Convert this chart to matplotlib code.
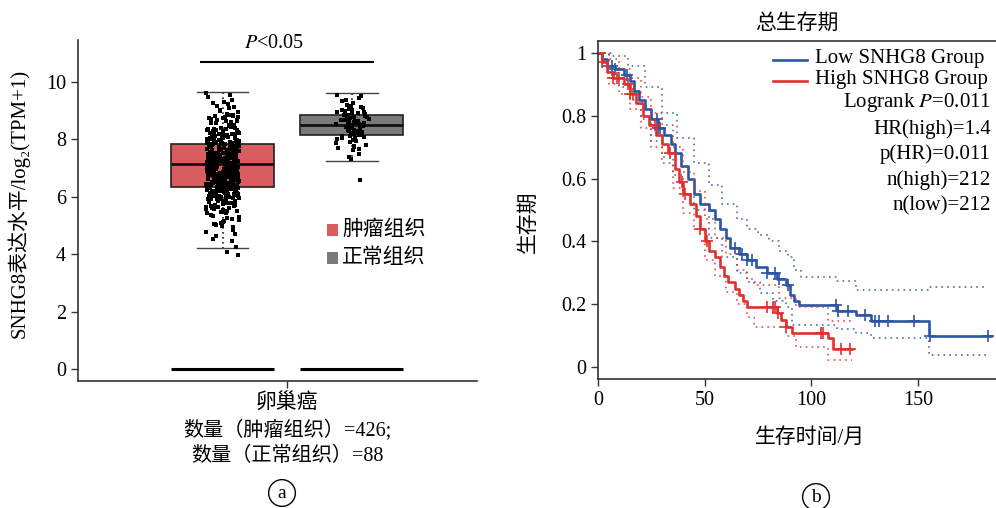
import matplotlib
matplotlib.use("Agg")
import matplotlib.pyplot as plt
import numpy as np
from matplotlib.lines import Line2D
from matplotlib.patches import Rectangle

plt.rcParams["font.family"] = ["Liberation Serif", "Noto Sans CJK SC", "DejaVu Serif"]
plt.rcParams["mathtext.fontset"] = "stix"

# ---- panel a: box plot data ----
group_names = ["肿瘤组织", "正常组织"]
box_q1 = [6.35, 8.15]
box_med = [7.15, 8.50]
box_q3 = [7.85, 8.85]
box_lo = [4.20, 7.25]
box_hi = [9.65, 9.62]
box_out = [[3.98], [6.60]]
box_colors = ["#d95d5f", "#7a7a7a"]

# estimated point counts per value bin (bin edges / counts)
tumor_edges = [3.9, 4.4, 4.9, 5.4, 5.9, 6.4, 6.9, 7.4, 7.9, 8.4, 8.9, 9.4, 9.7]
tumor_counts = [2, 6, 14, 30, 60, 75, 80, 75, 45, 25, 10, 3]
normal_edges = [7.2, 7.6, 8.0, 8.4, 8.8, 9.2, 9.62]
normal_counts = [3, 10, 22, 28, 18, 6]

# ---- panel b: Kaplan-Meier curves ----
low_t = [0, 2, 4, 8, 12, 15, 17, 19, 22, 25, 28, 31, 34, 36, 39, 42, 45, 48, 52, 55,
         57, 60, 62, 66, 70, 74, 79, 84, 88, 90, 92, 94, 112, 121, 128, 155, 184]
low_s = [1, 0.98, 0.96, 0.95, 0.93, 0.91, 0.88, 0.85, 0.82, 0.79, 0.76, 0.74, 0.71, 0.68,
         0.64, 0.60, 0.55, 0.52, 0.50, 0.47, 0.44, 0.41, 0.38, 0.36, 0.34, 0.32, 0.30,
         0.28, 0.26, 0.23, 0.21, 0.197, 0.18, 0.165, 0.148, 0.098, 0.098]
low_up_t = [0, 7, 14, 22, 30, 37, 45, 52, 58, 65, 70, 75, 80, 85, 89, 92, 95, 112, 121, 155, 183]
low_up_s = [1, 0.99, 0.96, 0.89, 0.81, 0.73, 0.65, 0.58, 0.52, 0.47, 0.44, 0.42, 0.40,
            0.37, 0.35, 0.31, 0.287, 0.273, 0.245, 0.255, 0.255]
low_dn_t = [0, 5, 10, 15, 20, 25, 30, 35, 40, 45, 52, 58, 65, 70, 76, 82, 88, 91, 112, 121, 128, 155, 183]
low_dn_s = [1, 0.93, 0.89, 0.85, 0.79, 0.72, 0.67, 0.61, 0.55, 0.50, 0.41, 0.35, 0.30,
            0.27, 0.235, 0.21, 0.19, 0.134, 0.12, 0.107, 0.092, 0.038, 0.038]
low_cens = [4.7, 6.5, 8, 13.5, 27.7, 28.3, 29, 64, 67.5, 70, 72, 79, 83, 85, 89,
            111.6, 112.5, 117, 125, 130, 131.5, 136, 148, 155.6, 183]

high_t = [0, 2, 4, 7, 12, 15, 18, 21, 24, 27, 30, 33, 36, 38, 40, 43, 46, 48, 50, 52,
          55, 57, 59, 61, 64, 66, 68, 70, 84, 86, 88, 91, 108, 110, 119]
high_s = [1, 0.97, 0.94, 0.92, 0.90, 0.87, 0.84, 0.80, 0.77, 0.74, 0.71, 0.68, 0.63,
          0.59, 0.55, 0.52, 0.48, 0.44, 0.40, 0.37, 0.35, 0.32, 0.29, 0.27, 0.25, 0.23,
          0.21, 0.19, 0.172, 0.15, 0.128, 0.11, 0.092, 0.057, 0.057]
high_up_t = [0, 5, 10, 15, 20, 25, 30, 35, 40, 45, 50, 55, 60, 65, 70, 73, 85, 93, 108, 119]
high_up_s = [1, 0.98, 0.95, 0.92, 0.86, 0.81, 0.77, 0.70, 0.62, 0.56, 0.47, 0.41, 0.36,
             0.31, 0.28, 0.26, 0.22, 0.19, 0.146, 0.146]
high_dn_t = [0, 5, 10, 15, 20, 25, 30, 35, 40, 45, 50, 55, 60, 65, 70, 73, 88, 93, 108, 119]
high_dn_s = [1, 0.90, 0.87, 0.82, 0.76, 0.70, 0.65, 0.57, 0.49, 0.44, 0.34, 0.29, 0.24,
             0.20, 0.16, 0.127, 0.10, 0.064, 0.022, 0.022]
high_cens = [2, 7, 9, 10, 14, 15, 16.5, 26.6, 33.8, 39.5, 41, 48, 51, 79, 82, 83,
             84.5, 88, 104.5, 105.6, 114, 118]

blue = "#2b55a5"
red = "#e0302e"

fig = plt.figure(figsize=(9.96, 5.08), dpi=100)
W, H = 996.0, 508.0


def fx(px):
    return px / W


def fy(py):
    return 1 - py / H


# ================= panel a =================
ax1 = fig.add_axes([fx(78), fy(381), fx(477) - fx(78), fy(40) - fy(381)])
pos = [-0.5, 0.5]
stats = []
for i in range(2):
    stats.append(dict(med=box_med[i], q1=box_q1[i], q3=box_q3[i],
                      whislo=box_lo[i], whishi=box_hi[i], fliers=[]))
bp = ax1.bxp(stats, positions=pos, widths=0.8, patch_artist=True, showfliers=False,
             capwidths=0.4,
             boxprops=dict(edgecolor="#222222", linewidth=1.2),
             whiskerprops=dict(color="#222222", linestyle=(0, (1, 2)), linewidth=1.2),
             capprops=dict(color="#444444", linewidth=1.0),
             medianprops=dict(color="#111111", linewidth=2.0), zorder=2)
for patch, c in zip(bp["boxes"], box_colors):
    patch.set_facecolor(c)

# horizontal jitter only (positions), fixed seed
rng = np.random.default_rng(7)
for i, (edges, counts) in enumerate([(tumor_edges, tumor_counts), (normal_edges, normal_counts)]):
    vals = []
    for k, n in enumerate(counts):
        lo, hi = edges[k], edges[k + 1]
        vals.extend(list(np.linspace(lo, hi, n + 2)[1:-1]))
    vals = np.array(vals + box_out[i])
    jit = rng.uniform(-1, 1, len(vals))
    ax1.scatter(pos[i] + jit * 0.13, vals, s=5, marker="s", color="black",
                linewidths=0, zorder=3)

# zero lines
for p in pos:
    ax1.hlines(0, p - 0.4, p + 0.4, color="black", linewidth=2.2, zorder=3)

# significance bar
ax1.hlines(10.70, -0.674, 0.674, color="black", linewidth=1.5)
ax1.text(-0.1, 11.02, r"$P$<0.05", ha="center", va="bottom", fontsize=14.5)

ax1.set_xlim(-1.62, 1.47)
ax1.set_ylim(-0.42, 11.46)
ax1.set_yticks([0, 2, 4, 6, 8, 10])
ax1.set_xticks([0])
ax1.set_xticklabels([""])
ax1.tick_params(axis="both", labelsize=14.5, length=5, width=1.0, color="#333333")
ax1.spines["top"].set_visible(False)
ax1.spines["right"].set_visible(False)
for s in ["left", "bottom"]:
    ax1.spines[s].set_linewidth(1.2)
    ax1.spines[s].set_color("#333333")
ax1.set_ylabel("SNHG8表达水平/log₂(TPM+1)", fontsize=15)
ax1.yaxis.set_label_coords(-0.12, 0.52)

# legend (panel a)
for k, (name, c) in enumerate(zip(group_names, box_colors)):
    yy = 230 + k * 28
    fig.add_artist(Rectangle((fx(327), fy(yy + 6)), fx(11), fy(yy - 6) - fy(yy + 6),
                             transform=fig.transFigure, facecolor=c, edgecolor="none"))
    fig.text(fx(342), fy(yy), name, fontsize=15, ha="left", va="center")

fig.text(fx(287), fy(403), "卵巢癌", ha="center", va="center", fontsize=15)
fig.text(fx(287), fy(431), "数量（肿瘤组织）=426;", ha="center", va="center", fontsize=14.5)
fig.text(fx(287), fy(456), "数量（正常组织）=88", ha="center", va="center", fontsize=14.5)

# ================= panel b =================
ax2 = fig.add_axes([fx(598), fy(379), fx(998) - fx(598), fy(41) - fy(379)])


def step_at(t, s, c):
    t = np.asarray(t)
    s = np.asarray(s)
    return s[np.clip(np.searchsorted(t, c, side="right") - 1, 0, len(s) - 1)]


for tt, ss, up_t, up_s, dn_t, dn_s, cens, c in [
        (low_t, low_s, low_up_t, low_up_s, low_dn_t, low_dn_s, low_cens, blue),
        (high_t, high_s, high_up_t, high_up_s, high_dn_t, high_dn_s, high_cens, red)]:
    ax2.step(up_t, up_s, where="post", color=c, linestyle=(0, (1, 2.5)), linewidth=1.2, alpha=0.85)
    ax2.step(dn_t, dn_s, where="post", color=c, linestyle=(0, (1, 2.5)), linewidth=1.2, alpha=0.85)
    ax2.step(tt, ss, where="post", color=c, linewidth=1.9)
    cens = np.array(cens)
    ax2.plot(cens, step_at(tt, ss, cens), linestyle="none", marker="+", markersize=9,
             markeredgewidth=1.2, color=c)

ax2.set_xlim(0, 187.5)
ax2.set_ylim(-0.038, 1.038)
ax2.set_xticks([0, 50, 100, 150])
ax2.set_yticks([0, 0.2, 0.4, 0.6, 0.8, 1])
ax2.set_yticklabels(["0", "0.2", "0.4", "0.6", "0.8", "1"])
ax2.tick_params(axis="both", labelsize=14.5, length=5, width=1.0, color="#333333")
ax2.spines["right"].set_visible(False)
for s in ["left", "bottom", "top"]:
    ax2.spines[s].set_linewidth(1.2)
    ax2.spines[s].set_color("#333333")

fig.text(fx(797), fy(24), "总生存期", ha="center", va="center", fontsize=15)
fig.text(fx(529), fy(222), "生存期", ha="center", va="center", rotation=90, fontsize=15)
fig.text(fx(810), fy(438), "生存时间/月", ha="center", va="center", fontsize=15)

# legend (panel b)
for k, (lab, c) in enumerate([("Low SNHG8 Group", blue), ("High SNHG8 Group", red)]):
    yy = 60 + k * 21
    fig.add_artist(Line2D([fx(773), fx(807)], [fy(yy), fy(yy)], transform=fig.transFigure,
                          color=c, linewidth=1.9))
    fig.text(fx(815), fy(yy - 1), lab, ha="left", va="center", fontsize=15)
info = [r"Logrank $P$=0.011", "HR(high)=1.4", "p(HR)=0.011", "n(high)=212", "n(low)=212"]
for k, lab in enumerate(info):
    fig.text(fx(991), fy(103 + k * 25.7), lab, ha="right", va="center", fontsize=15)

# panel letters
for px, py, lab in [(282, 493, "a"), (816, 497, "b")]:
    fig.text(fx(px), fy(py), lab, ha="center", va="center", fontsize=14,
             bbox=dict(boxstyle="circle,pad=0.25", facecolor="white", edgecolor="black", linewidth=1.0))

fig.savefig("out.png", dpi=100)
